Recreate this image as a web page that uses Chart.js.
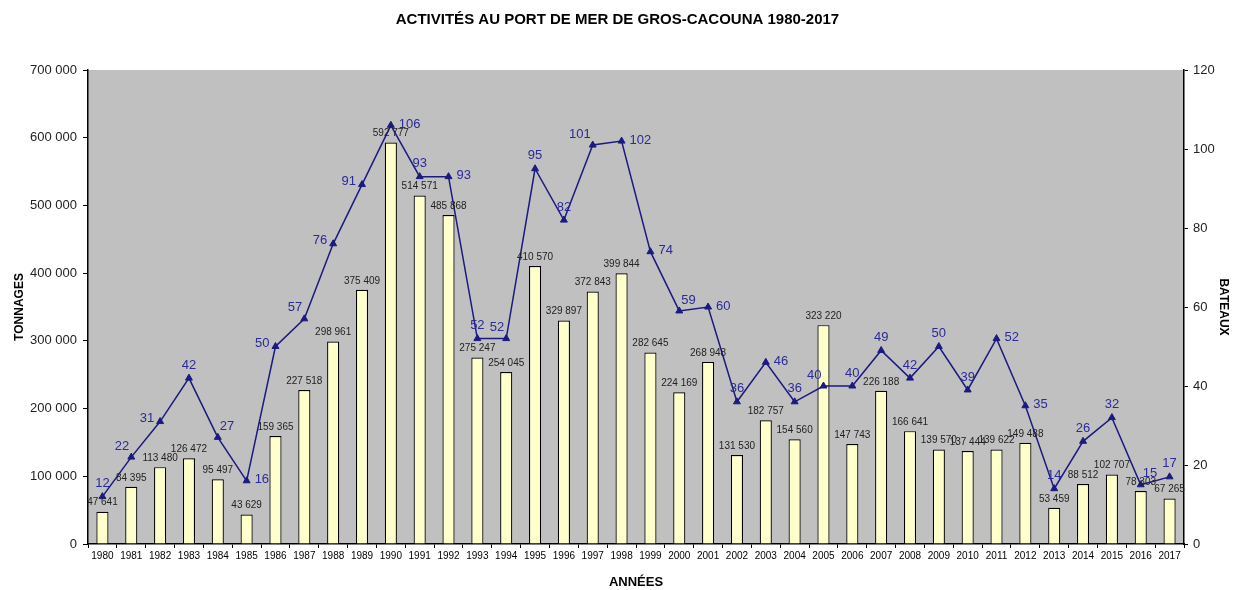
<!DOCTYPE html>
<html>
<head>
<meta charset="utf-8">
<script src="https://cdn.jsdelivr.net/npm/chart.js@4.4.0/dist/chart.umd.min.js"></script>
<style>
  html, body { margin: 0; padding: 0; background: #fff; }
  #wrap { width: 1235px; height: 590px; }
</style>
</head>
<body>
<div id="wrap"><canvas id="chart" width="1235" height="590"></canvas></div>
<script>
var years = ["1980","1981","1982","1983","1984","1985","1986","1987","1988","1989",
  "1990","1991","1992","1993","1994","1995","1996","1997","1998","1999",
  "2000","2001","2002","2003","2004","2005","2006","2007","2008","2009",
  "2010","2011","2012","2013","2014","2015","2016","2017"];

var tonnages = [47641, 84395, 113480, 126472, 95497, 43629, 159365, 227518, 298961, 375409,
  592777, 514571, 485868, 275247, 254045, 410570, 329897, 372843, 399844, 282645,
  224169, 268948, 131530, 182757, 154560, 323220, 147743, 226188, 166641, 139570,
  137444, 139622, 149488, 53459, 88512, 102707, 78303, 67265];

var bateaux = [12, 22, 31, 42, 27, 16, 50, 57, 76, 91,
  106, 93, 93, 52, 52, 95, 82, 101, 102, 74,
  59, 60, 36, 46, 36, 40, 40, 49, 42, 50,
  39, 52, 35, 14, 26, 32, 15, 17];

// where each boat count label sits relative to its point
var bateauxLabelSide = ['t','tl','l','t','tr','r','l','tl','l','l',
  'r','t','r','t','tl','t','t','tl','r','r',
  'tr','r','t','r','t','tl','t','t','t','t',
  't','r','r','t','t','t','tr','t'];

function fmt(v) {
  return String(v).replace(/\B(?=(\d{3})+(?!\d))/g, ' ');
}

var plotBg = {
  id: 'plotBg',
  beforeDraw: function(chart) {
    var a = chart.chartArea, c = chart.ctx;
    c.save();
    c.fillStyle = '#c0c0c0';
    c.fillRect(a.left, a.top, a.right - a.left, a.bottom - a.top);
    c.restore();
  }
};

var valueLabels = {
  id: 'valueLabels',
  afterDatasetsDraw: function(chart) {
    var c = chart.ctx;
    c.save();
    // bar labels
    var bars = chart.getDatasetMeta(1).data;
    c.font = '10px "Liberation Sans", Arial, sans-serif';
    c.fillStyle = '#222';
    c.textAlign = 'center';
    c.textBaseline = 'bottom';
    bars.forEach(function(b, i) {
      c.fillText(fmt(tonnages[i]), b.x, b.y - 4);
    });
    // line labels
    var pts = chart.getDatasetMeta(0).data;
    c.font = '13px "Liberation Sans", Arial, sans-serif';
    c.fillStyle = '#2a2a9a';
    c.textBaseline = 'middle';
    pts.forEach(function(p, i) {
      var s = bateauxLabelSide[i], x = p.x, y = p.y;
      if (s === 't') { c.textAlign = 'center'; y -= 13; }
      else if (s === 'tl') { c.textAlign = 'right'; x -= 2; y -= 11; }
      else if (s === 'tr') { c.textAlign = 'left'; x += 2; y -= 11; }
      else if (s === 'l') { c.textAlign = 'right'; x -= 6; y -= 3; }
      else { c.textAlign = 'left'; x += 8; y -= 1; }
      c.fillText(String(bateaux[i]), x, y);
    });
    c.restore();
  }
};

var ctx = document.getElementById('chart').getContext('2d');
var myChart = new Chart(ctx, {
  type: 'bar',
  data: {
    labels: years,
    datasets: [{
        type: 'line',
        label: 'Bateaux',
        data: bateaux,
        yAxisID: 'y1',
        borderColor: '#1a1a80',
        backgroundColor: '#1a1a80',
        borderWidth: 1.5,
        pointStyle: 'triangle',
        pointRadius: 4,
        pointBorderWidth: 1,
        tension: 0,
        order: 0
      },
      {
        label: 'Tonnages',
        data: tonnages,
        yAxisID: 'y',
        backgroundColor: '#ffffcc',
        borderColor: '#000',
        borderWidth: 1.2,
        barPercentage: 0.42,
        categoryPercentage: 1,
        order: 1
      }
    ]
  },
  options: {
    responsive: false,
    animation: false,
    layout: { padding: { left: 0, right: 0, top: 0, bottom: 0 } },
    plugins: {
      legend: { display: false },
      tooltip: { enabled: false },
      title: {
        display: true,
        text: 'ACTIVITÉS AU PORT DE MER DE GROS-CACOUNA 1980-2017',
        color: '#000',
        font: { family: '"Liberation Sans", Arial, sans-serif', size: 15, weight: 'bold' },
        padding: { top: 11, bottom: 41 }
      }
    },
    scales: {
      x: {
        offset: true,
        grid: { offset: true, drawOnChartArea: false, tickLength: 4, color: '#000' },
        border: { color: '#000', width: 1.5 },
        ticks: {
          color: '#000',
          maxRotation: 0,
          autoSkip: false,
          padding: 2,
          font: { family: '"Liberation Sans Narrow", "Liberation Sans", Arial', size: 10 }
        },
        title: {
          display: true,
          text: 'ANNÉES',
          color: '#000',
          font: { family: '"Liberation Sans", Arial', size: 13, weight: 'bold' },
          padding: { top: 14, bottom: 0 }
        },
        afterFit: function(s) { s.height = 46; }
      },
      y: {
        position: 'left',
        min: 0,
        max: 700000,
        ticks: {
          stepSize: 100000,
          color: '#222',
          padding: 6,
          font: { family: '"Liberation Sans", Arial', size: 13 },
          callback: function(v) { return fmt(v); }
        },
        grid: { drawOnChartArea: false, tickLength: 5, color: '#000' },
        border: { color: '#000', width: 1.5 },
        title: {
          display: true,
          text: 'TONNAGES',
          color: '#000',
          font: { family: '"Liberation Sans", Arial', size: 12, weight: 'bold' },
          padding: { top: 12, bottom: 4 }
        },
        afterFit: function(s) { s.width = 88; }
      },
      y1: {
        position: 'right',
        min: 0,
        max: 120,
        ticks: {
          stepSize: 20,
          color: '#222',
          padding: 5,
          font: { family: '"Liberation Sans", Arial', size: 13 }
        },
        grid: { drawOnChartArea: false, tickLength: 4, color: '#000' },
        border: { color: '#000', width: 1.5 },
        title: {
          display: true,
          text: 'BATEAUX',
          color: '#000',
          font: { family: '"Liberation Sans", Arial', size: 12, weight: 'bold' },
          padding: { top: 4, bottom: 2 }
        },
        afterFit: function(s) { s.width = 51; }
      }
    }
  },
  plugins: [plotBg, valueLabels]
});
</script>
</body>
</html>
